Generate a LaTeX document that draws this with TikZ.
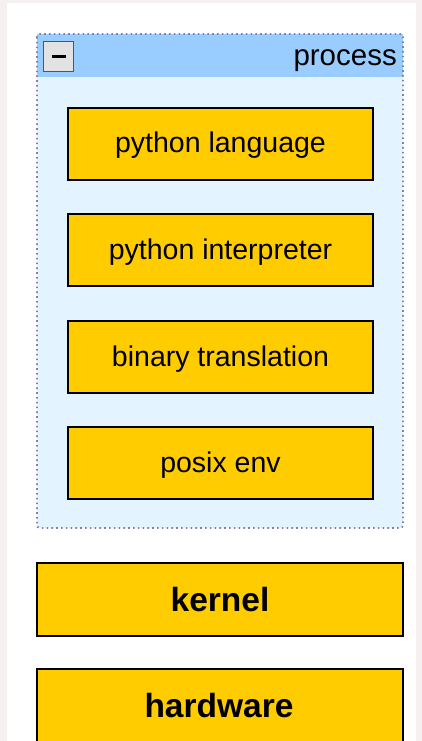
\documentclass[tikz,border=0pt]{standalone}
\usepackage{fontspec}
\setmainfont{Liberation Sans}
\usetikzlibrary{calc}
\definecolor{outerbg}{HTML}{F6F0F0}
\definecolor{boxyellow}{HTML}{FFCC00}
\definecolor{headblue}{HTML}{99CCFF}
\definecolor{bodyblue}{HTML}{E3F3FF}
\definecolor{dotgray}{HTML}{8080AA}
\definecolor{btngray}{HTML}{E2E2E2}
\definecolor{btnedge}{HTML}{555555}
\tikzset{
  layerbox/.style={draw=black, line width=1.4pt, fill=boxyellow, inner sep=0pt},
  smalltext/.style={font=\fontsize{28.5}{32}\selectfont, text height=20pt, text depth=2pt},
  bigtext/.style={font=\bfseries\fontsize{33.5}{38}\selectfont},
}
\begin{document}
\begin{tikzpicture}[x=1pt,y=-1pt]
\useasboundingbox (0,0) rectangle (422,741);
\clip (0,0) rectangle (422,741);
\fill[outerbg] (0,0) rectangle (422,741);
\fill[white] (7,3) rectangle (416,741);
% container
\fill[bodyblue, rounded corners=3pt] (37,34) rectangle (403,528);
\fill[headblue] (37,34) rectangle (403,77);
\draw[dotgray, line width=1.8pt, dash pattern=on 1.6pt off 3.2pt, rounded corners=3pt] (37,34) rectangle (403,528);
\node[draw=btnedge, line width=1pt, fill=btngray, minimum width=30pt, minimum height=30pt, inner sep=0pt] (btn) at (58.5,56.5) {};
\fill[black] ($(btn.center)+(-7,-1.6)$) rectangle ($(btn.center)+(7,1.6)$);
\node[anchor=base east, inner sep=0pt, font=\fontsize{29.5}{33}\selectfont] (ptitle) at (397,66) {process};
% inner boxes
\node[layerbox, smalltext, minimum width=305pt, minimum height=72pt] (lang) at (220.5,144) {python language};
\node[layerbox, smalltext, minimum width=305pt, minimum height=72pt] (interp) at (220.5,250) {python interpreter};
\node[layerbox, smalltext, minimum width=305pt, minimum height=72pt] (trans) at (220.5,357) {binary translation};
\node[layerbox, smalltext, minimum width=305pt, minimum height=72pt] (posix) at (220.5,463) {posix env};
% lower boxes
\node[layerbox, bigtext, minimum width=366pt, minimum height=73pt] (kernel) at (220,599.5) {kernel};
\draw[layerbox] (37,669) rectangle (403,760);
\node[bigtext, inner sep=0pt] (hardware) at (219,706) {hardware};
\end{tikzpicture}
\end{document}
